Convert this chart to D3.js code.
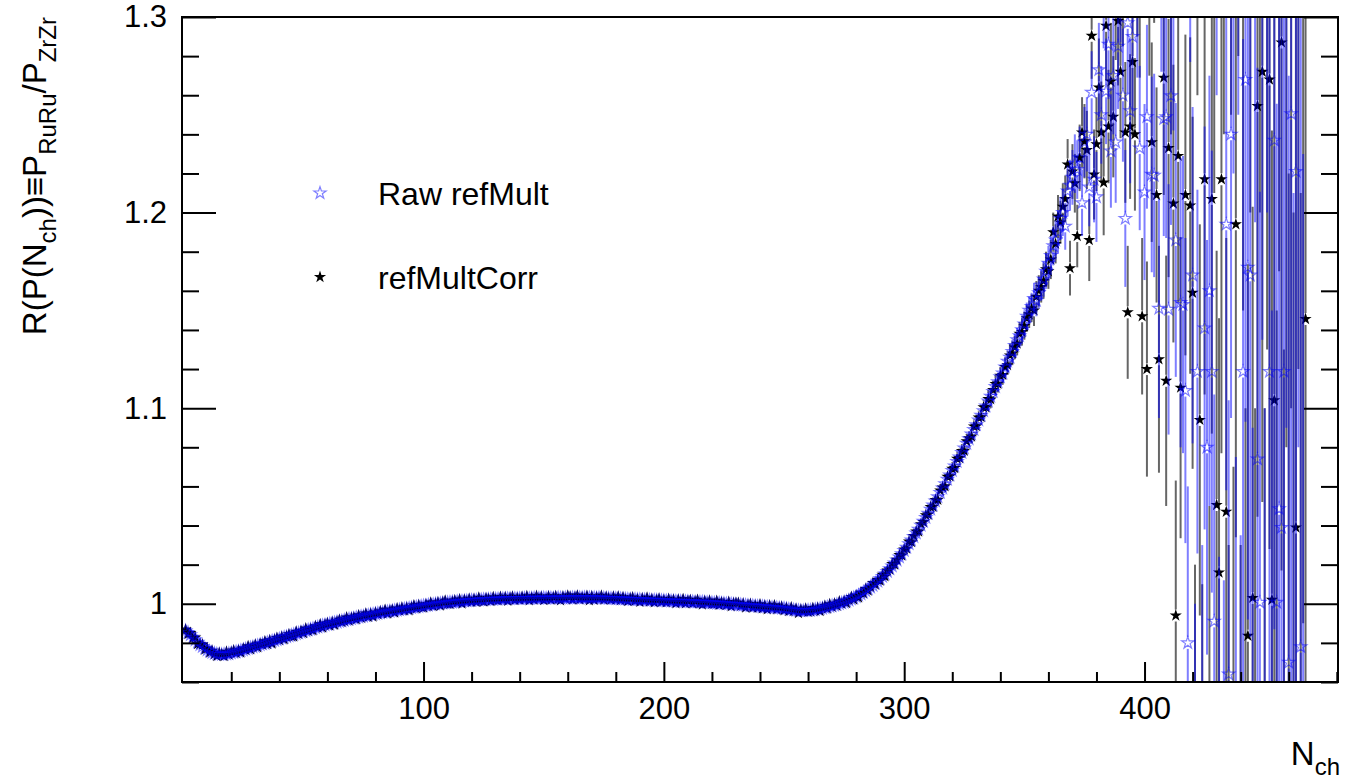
<!DOCTYPE html>
<html>
<head>
<meta charset="utf-8">
<script src="https://cdn.jsdelivr.net/npm/d3@7"></script>
<style>
  body { margin: 0; background: #fff; }
  svg { display: block; }
  text { font-family: "Liberation Sans", Arial, Helvetica, sans-serif; fill: #000; }
</style>
</head>
<body>
<svg id="chart" width="1366" height="782"></svg>
<script>
// ---- axis definitions ----
const xMajorTicks = [100, 200, 300, 400];
const xMinorTicks = [20, 40, 60, 80, 120, 140, 160, 180, 220, 240, 260, 280, 320, 340, 360, 380, 420, 440, 460, 480];
const yMajorTicks = [1.0, 1.1, 1.2, 1.3];
const yTickLabels = ["1", "1.1", "1.2", "1.3"];
const yMinorTicks = [0.96, 0.98, 1.02, 1.04, 1.06, 1.08, 1.12, 1.14, 1.16, 1.18, 1.22, 1.24, 1.26, 1.28];
const legendLabels = ["Raw refMult", "refMultCorr"];

// ---- ratio values per N_ch bin, N = 1 .. 340 ----
const rawLow = [
  0.9862,0.9853,0.9841,0.9828,0.9815,0.9803,0.9791,0.9781,0.9772,0.9764,
  0.9757,0.9751,0.9746,0.9743,0.9741,0.9740,0.9741,0.9743,0.9745,0.9748,
  0.9751,0.9754,0.9757,0.9761,0.9764,0.9768,0.9771,0.9775,0.9779,0.9782,
  0.9786,0.9790,0.9794,0.9797,0.9801,0.9805,0.9809,0.9812,0.9816,0.9820,
  0.9824,0.9828,0.9831,0.9835,0.9839,0.9843,0.9847,0.9850,0.9854,0.9858,
  0.9862,0.9866,0.9869,0.9873,0.9877,0.9881,0.9884,0.9888,0.9891,0.9894,
  0.9897,0.9900,0.9903,0.9906,0.9909,0.9912,0.9915,0.9918,0.9921,0.9923,
  0.9926,0.9929,0.9931,0.9934,0.9936,0.9939,0.9941,0.9944,0.9946,0.9948,
  0.9951,0.9953,0.9955,0.9957,0.9959,0.9961,0.9963,0.9965,0.9967,0.9969,
  0.9971,0.9973,0.9975,0.9977,0.9979,0.9981,0.9983,0.9985,0.9987,0.9989,
  0.9991,0.9993,0.9995,0.9996,0.9998,1.0000,1.0001,1.0003,1.0004,1.0006,
  1.0007,1.0008,1.0009,1.0011,1.0012,1.0013,1.0014,1.0015,1.0016,1.0017,
  1.0018,1.0018,1.0019,1.0020,1.0021,1.0021,1.0022,1.0023,1.0023,1.0024,
  1.0024,1.0025,1.0025,1.0026,1.0026,1.0026,1.0027,1.0027,1.0027,1.0027,
  1.0027,1.0028,1.0028,1.0027,1.0028,1.0029,1.0028,1.0028,1.0029,1.0029,
  1.0028,1.0029,1.0029,1.0028,1.0029,1.0030,1.0029,1.0029,1.0030,1.0030,
  1.0029,1.0030,1.0030,1.0031,1.0030,1.0030,1.0031,1.0030,1.0030,1.0030,
  1.0030,1.0029,1.0030,1.0029,1.0029,1.0028,1.0028,1.0027,1.0027,1.0026,
  1.0026,1.0025,1.0025,1.0024,1.0023,1.0023,1.0022,1.0022,1.0021,1.0021,
  1.0020,1.0020,1.0019,1.0019,1.0018,1.0018,1.0017,1.0017,1.0016,1.0016,
  1.0015,1.0015,1.0014,1.0014,1.0013,1.0013,1.0012,1.0012,1.0011,1.0011,
  1.0010,1.0010,1.0009,1.0009,1.0008,1.0008,1.0007,1.0006,1.0006,1.0005,
  1.0004,1.0003,1.0003,1.0002,1.0001,1.0000,0.9999,0.9998,0.9997,0.9996,
  0.9995,0.9994,0.9993,0.9992,0.9991,0.9990,0.9989,0.9988,0.9987,0.9986,
  0.9985,0.9984,0.9983,0.9982,0.9981,0.9980,0.9979,0.9978,0.9977,0.9976,
  0.9974,0.9972,0.9970,0.9968,0.9966,0.9965,0.9964,0.9964,0.9965,0.9966,
  0.9967,0.9968,0.9970,0.9972,0.9974,0.9977,0.9980,0.9983,0.9986,0.9989,
  0.9992,0.9996,1.0000,1.0004,1.0008,1.0013,1.0018,1.0024,1.0030,1.0036,
  1.0043,1.0050,1.0058,1.0066,1.0075,1.0084,1.0094,1.0104,1.0115,1.0127,
  1.0139,1.0152,1.0165,1.0179,1.0193,1.0208,1.0223,1.0239,1.0255,1.0272,
  1.0289,1.0307,1.0325,1.0343,1.0362,1.0381,1.0401,1.0421,1.0441,1.0462,
  1.0483,1.0504,1.0525,1.0547,1.0569,1.0591,1.0613,1.0636,1.0658,1.0681,
  1.0704,1.0727,1.0750,1.0773,1.0796,1.0820,1.0843,1.0867,1.0891,1.0915,
  1.0939,1.0963,1.0987,1.1011,1.1036,1.1060,1.1085,1.1110,1.1135,1.1160
];
const corrLow = [
  0.9868,0.9845,0.9851,0.9824,0.9827,0.9794,0.9794,0.9792,0.9766,0.9772,
  0.9750,0.9760,0.9743,0.9733,0.9749,0.9742,0.9732,0.9755,0.9740,0.9752,
  0.9761,0.9748,0.9761,0.9750,0.9771,0.9765,0.9783,0.9767,0.9781,0.9791,
  0.9777,0.9795,0.9792,0.9808,0.9794,0.9813,0.9797,0.9816,0.9825,0.9815,
  0.9831,0.9818,0.9834,0.9844,0.9833,0.9832,0.9857,0.9846,0.9860,0.9850,
  0.9874,0.9861,0.9871,0.9864,0.9885,0.9878,0.9895,0.9878,0.9895,0.9901,
  0.9889,0.9906,0.9892,0.9909,0.9918,0.9907,0.9913,0.9930,0.9914,0.9928,
  0.9930,0.9920,0.9941,0.9928,0.9938,0.9950,0.9933,0.9949,0.9934,0.9955,
  0.9946,0.9961,0.9952,0.9969,0.9950,0.9965,0.9969,0.9955,0.9976,0.9967,
  0.9980,0.9966,0.9980,0.9966,0.9982,0.9991,0.9977,0.9993,0.9983,0.9980,
  0.9997,0.9989,1.0006,0.9988,1.0000,1.0007,0.9991,1.0008,1.0016,1.0000,
  0.9998,1.0011,1.0017,1.0006,1.0022,1.0001,1.0020,1.0012,1.0025,1.0010,
  1.0023,1.0010,1.0031,1.0016,1.0011,1.0028,1.0025,1.0014,1.0034,1.0022,
  1.0018,1.0035,1.0022,1.0033,1.0015,1.0030,1.0036,1.0019,1.0029,1.0022,
  1.0035,1.0024,1.0039,1.0018,1.0031,1.0022,1.0040,1.0026,1.0035,1.0019,
  1.0025,1.0038,1.0021,1.0033,1.0039,1.0024,1.0018,1.0036,1.0026,1.0042,
  1.0035,1.0021,1.0034,1.0042,1.0023,1.0032,1.0026,1.0040,1.0018,1.0038,
  1.0020,1.0034,1.0027,1.0041,1.0021,1.0035,1.0029,1.0021,1.0036,1.0022,
  1.0037,1.0019,1.0033,1.0022,1.0014,1.0027,1.0032,1.0015,1.0024,1.0010,
  1.0027,1.0016,1.0031,1.0011,1.0023,1.0008,1.0020,1.0026,1.0010,1.0018,
  1.0008,1.0025,1.0012,1.0020,1.0002,1.0021,1.0007,1.0024,1.0002,1.0015,
  1.0019,1.0002,1.0012,1.0020,1.0002,0.9996,1.0014,1.0003,1.0016,1.0000,
  1.0000,1.0015,0.9994,1.0007,1.0003,0.9993,1.0009,0.9987,1.0003,1.0004,
  1.0005,0.9989,1.0000,0.9980,0.9994,0.9999,0.9981,0.9992,0.9981,0.9997,
  0.9977,0.9990,0.9972,0.9991,0.9978,0.9992,0.9972,0.9980,0.9985,0.9966,
  0.9979,0.9963,0.9981,0.9964,0.9974,0.9953,0.9970,0.9962,0.9975,0.9959,
  0.9961,0.9978,0.9967,0.9979,0.9963,0.9981,0.9989,0.9975,0.9998,0.9984,
  1.0000,0.9989,1.0012,1.0001,1.0014,1.0003,1.0022,1.0035,1.0021,1.0041,
  1.0032,1.0056,1.0054,1.0076,1.0067,1.0087,1.0106,1.0098,1.0122,1.0118,
  1.0148,1.0140,1.0170,1.0175,1.0204,1.0201,1.0225,1.0249,1.0247,1.0278,
  1.0282,1.0318,1.0315,1.0347,1.0370,1.0369,1.0407,1.0418,1.0453,1.0456,
  1.0495,1.0496,1.0531,1.0532,1.0579,1.0595,1.0601,1.0650,1.0652,1.0690,
  1.0694,1.0742,1.0745,1.0781,1.0782,1.0831,1.0846,1.0855,1.0907,1.0908,
  1.0952,1.0954,1.1005,1.1005,1.1047,1.1045,1.1093,1.1124,1.1125,1.1166
];
// statistical error on the ratio for N = 1 .. 340: [from N, error]
const lowErrSteps = [[1, 0.0006], [150, 0.0008], [220, 0.0010], [270, 0.0015], [300, 0.0025], [320, 0.0035], [335, 0.0045]];

// ---- high-multiplicity tail: [N, ratio, error] ----
const rawTail = [
  [341,1.118,.005],[342,1.121,.005],[343,1.124,.005],[344,1.126,.006],[345,1.129,.006],[346,1.132,.006],[347,1.135,.006],[348,1.137,.006],[349,1.140,.007],[350,1.143,.007],
  [351,1.147,.007],[352,1.150,.007],[353,1.152,.007],[354,1.156,.008],[355,1.155,.008],[356,1.159,.008],[357,1.163,.008],[358,1.166,.009],[359,1.170,.009],[360,1.174,.009],
  [361,1.178,.010],[362,1.183,.010],[363,1.186,.010],[364,1.190,.011],[365,1.197,.011],[366,1.200,.012],[367,1.193,.012],[368,1.211,.013],[369,1.214,.013],[370,1.218,.014],
  [371,1.225,.015],[372,1.222,.015],[373,1.228,.016],[374,1.205,.017],[375,1.236,.018],[376,1.240,.019],[377,1.213,.020],[378,1.2615,.021],[379,1.217,.022],[380,1.208,.023],
  [381,1.273,.024],[382,1.250,.025],[383,1.310,.026],[384,1.262,.027],[385,1.286,.028],[386,1.2315,.029],[387,1.270,.030],[388,1.236,.031],[389,1.285,.032],[390,1.320,.033],
  [391,1.260,.034],[392,1.197,.035],[393,1.297,.036],[394,1.252,.037],[395,1.290,.038],[396,1.340,.040],[397,1.310,.041],[398,1.233,.042],[399,1.350,.044],[400,1.2105,.045],
  [401,1.249,.047],[402,1.360,.048],[403,1.2195,.050],[404,1.219,.052],[405,1.380,.054],[406,1.151,.056],[407,1.330,.058],[408,1.248,.060],[409,1.249,.062],[410,1.1505,.064],
  [411,1.2597,.066],[412,1.310,.068],[413,1.186,.070],[414,1.420,.072],[415,1.154,.074],[416,1.153,.076],[417,1.109,.078],[418,0.980,.080],[419,1.360,.083],[420,1.168,.086],
  [421,0.910,.090],[422,1.1187,.093],[423,1.400,.096],[424,0.930,.100],[425,1.141,.103],[426,1.080,.106],[427,1.160,.110],[428,1.1187,.113],[429,0.991,.116],[430,1.380,.120],
  [431,0.900,.124],[432,1.440,.128],[433,0.880,.132],[434,1.194,.136],[435,0.964,.140],[436,1.240,.145],[437,1.370,.150],[438,0.920,.155],[439,1.410,.160],[440,0.870,.165],
  [441,1.1187,.170],[442,1.268,.175],[443,1.172,.180],[444,1.168,.185],[445,0.900,.190],[446,1.390,.195],[447,1.074,.200],[448,1.0007,.210],[449,1.350,.215],[450,0.880,.220],
  [451,1.430,.230],[452,1.1187,.235],[453,0.910,.240],[454,1.237,.250],[455,1.0007,.255],[456,1.0486,.260],[457,1.039,.270],[458,1.1187,.280],[459,1.380,.290],[460,0.970,.300],
  [461,1.2505,.310],[462,0.890,.320],[463,1.221,.330],[464,1.420,.340],[465,0.978,.350],[466,0.870,.360]
];
const corrTail = [
  [341,1.117,.005],[342,1.121,.005],[343,1.122,.005],[344,1.127,.006],[345,1.128,.006],[346,1.131,.006],[347,1.133,.006],[348,1.138,.006],[349,1.139,.007],[350,1.142,.007],
  [351,1.146,.007],[352,1.148,.007],[353,1.151,.007],[354,1.150,.008],[355,1.157,.008],[356,1.160,.008],[357,1.162,.008],[358,1.165,.009],[359,1.171,.009],[360,1.170,.009],
  [361,1.176,.010],[362,1.190,.010],[363,1.184,.010],[364,1.198,.011],[365,1.195,.011],[366,1.203,.012],[367,1.207,.012],[368,1.2246,.013],[369,1.1716,.014],[370,1.221,.014],
  [371,1.215,.015],[372,1.188,.016],[373,1.228,.017],[374,1.241,.018],[375,1.2365,.019],[376,1.232,.020],[377,1.186,.021],[378,1.2904,.022],[379,1.2195,.023],[380,1.235,.024],
  [381,1.264,.025],[382,1.241,.026],[383,1.2154,.027],[384,1.2955,.028],[385,1.244,.029],[386,1.267,.030],[387,1.249,.031],[388,1.310,.032],[389,1.298,.033],[390,1.272,.034],
  [391,1.320,.035],[392,1.241,.036],[393,1.149,.034],[394,1.244,.037],[395,1.277,.038],[396,1.240,.039],[397,1.330,.040],[398,1.310,.041],[399,1.147,.040],[400,1.360,.045],
  [401,1.120,.055],[402,1.320,.050],[403,1.236,.051],[404,1.350,.053],[405,1.209,.055],[406,1.125,.058],[407,1.400,.070],[408,1.269,.060],[409,1.114,.064],[410,1.233,.066],
  [411,1.310,.070],[412,1.2046,.071],[413,0.994,.069],[414,1.229,.075],[415,1.1105,.077],[416,1.380,.080],[417,1.209,.082],[418,1.450,.090],[419,1.2036,.086],[420,1.159,.090],
  [421,0.920,.100],[422,1.360,.100],[423,1.094,.100],[424,0.900,.110],[425,1.217,.110],[426,1.420,.120],[427,0.930,.120],[428,1.207,.120],[429,1.340,.130],[430,1.0505,.130],
  [431,1.016,.130],[432,1.217,.140],[433,1.380,.140],[434,1.047,.140],[435,0.880,.150],[436,1.400,.150],[437,0.910,.160],[438,1.194,.160],[439,1.450,.170],[440,0.860,.170],
  [441,1.330,.180],[442,0.920,.180],[443,0.9836,.190],[444,1.390,.190],[445,1.003,.200],[446,0.900,.200],[447,1.2545,.210],[448,1.420,.220],[449,1.272,.220],[450,0.870,.230],
  [451,1.360,.230],[452,1.268,.240],[453,1.002,.240],[454,1.104,.250],[455,0.890,.260],[456,1.440,.270],[457,1.287,.270],[458,0.850,.280],[459,1.370,.290],[460,0.920,.300],
  [461,1.400,.300],[462,0.880,.320],[463,1.039,.320],[464,1.460,.340],[465,0.860,.350],[466,1.350,.360],[467,1.1456,.380]
];

// ---- build point lists ----
function lowErr(n) {
  let e = lowErrSteps[0][1];
  for (const [from, err] of lowErrSteps) if (n >= from) e = err;
  return e;
}
function buildSeries(low, tail) {
  return low.map((v, i) => ({ n: i + 1, v, e: lowErr(i + 1) }))
    .concat(tail.map(([n, v, e]) => ({ n, v, e })));
}
const rawPts = buildSeries(rawLow, rawTail);
const corrPts = buildSeries(corrLow, corrTail);

// ---- layout ----
const frame = { left: 182, right: 1338, top: 17, bottom: 682 };
const x = d3.scaleLinear().domain([-0.5, 480.5]).range([frame.left, frame.right]);
const y = d3.scaleLinear().domain([0.96, 1.3]).range([frame.bottom, frame.top]);

const svg = d3.select("#chart");
svg.append("defs").append("clipPath").attr("id", "plotClip")
  .append("rect").attr("x", frame.left).attr("y", frame.top)
  .attr("width", frame.right - frame.left).attr("height", frame.bottom - frame.top);

const plot = svg.append("g").attr("clip-path", "url(#plotClip)");
const star = d3.symbol().type(d3.symbolStar).size(46)();
const gap = 6;

function drawSeries(pts, cls, barColor, barOpacity, drawMarker) {
  const g = plot.append("g").attr("class", cls);
  const bars = g.append("g").attr("stroke", barColor).attr("stroke-opacity", barOpacity)
    .attr("stroke-width", 2).attr("fill", "none");
  pts.forEach(p => {
    const cx = x(p.n), cy = y(p.v);
    const top = y(p.v + p.e), bot = y(p.v - p.e);
    if (cy - gap > top) bars.append("line").attr("x1", cx).attr("x2", cx).attr("y1", top).attr("y2", cy - gap);
    if (bot > cy + gap) bars.append("line").attr("x1", cx).attr("x2", cx).attr("y1", cy + gap).attr("y2", bot);
  });
  const marks = g.append("g");
  pts.forEach(p => drawMarker(marks, x(p.n), y(p.v)));
}
const drawCorrMarker = (g, cx, cy) => g.append("path").attr("d", star)
  .attr("transform", `translate(${cx},${cy})`).attr("fill", "#000");
const drawRawMarker = (g, cx, cy) => g.append("path").attr("d", star)
  .attr("transform", `translate(${cx},${cy})`).attr("fill", "none")
  .attr("stroke", "rgb(0,0,255)").attr("stroke-opacity", 0.5).attr("stroke-width", 1.2);

drawSeries(corrPts, "corr", "#000", 0.6, drawCorrMarker);
drawSeries(rawPts, "raw", "rgb(0,0,255)", 0.5, drawRawMarker);

// ---- axes ----
const axes = svg.append("g").attr("class", "axes");
const fontTick = 31;

const xAxisMajor = d3.axisBottom(x).tickValues(xMajorTicks).tickSize(-20).tickPadding(15).tickFormat(d3.format("d"));
const xAxisMinor = d3.axisBottom(x).tickValues(xMinorTicks).tickSize(-10).tickFormat("");
const yAxisMajor = d3.axisLeft(y).tickValues(yMajorTicks).tickSize(-34).tickPadding(15)
  .tickFormat((d, i) => yTickLabels[i]);
const yAxisMinor = d3.axisLeft(y).tickValues(yMinorTicks).tickSize(-17).tickFormat("");
const yRightMajor = d3.axisRight(y).tickValues(yMajorTicks).tickSize(-34).tickFormat("");
const yRightMinor = d3.axisRight(y).tickValues(yMinorTicks).tickSize(-17).tickFormat("");

function styleAxis(g) {
  g.select(".domain").remove();
  g.selectAll(".tick line").attr("stroke", "#000").attr("stroke-width", 2);
  g.selectAll(".tick text").attr("font-size", fontTick)
    .attr("font-family", '"Liberation Sans", Arial, Helvetica, sans-serif').attr("fill", "#000");
}
axes.append("g").attr("transform", `translate(0,${frame.bottom})`).call(xAxisMajor).call(styleAxis);
axes.append("g").attr("transform", `translate(0,${frame.bottom})`).call(xAxisMinor).call(styleAxis);
axes.append("g").attr("transform", `translate(${frame.left},0)`).call(yAxisMajor).call(styleAxis);
axes.append("g").attr("transform", `translate(${frame.left},0)`).call(yAxisMinor).call(styleAxis);
axes.append("g").attr("transform", `translate(${frame.right},0)`).call(yRightMajor).call(styleAxis);
axes.append("g").attr("transform", `translate(${frame.right},0)`).call(yRightMinor).call(styleAxis);

svg.append("rect").attr("x", frame.left).attr("y", frame.top)
  .attr("width", frame.right - frame.left).attr("height", frame.bottom - frame.top)
  .attr("fill", "none").attr("stroke", "#000").attr("stroke-width", 2);

// ---- axis titles ----
const titleSize = 33, subSize = 24, subDrop = 10;
const yTitle = svg.append("text").attr("transform", "translate(46,17) rotate(-90)")
  .attr("text-anchor", "end").attr("font-size", titleSize);
yTitle.append("tspan").text("R(P(N");
yTitle.append("tspan").attr("font-size", subSize).attr("dy", subDrop).text("ch");
yTitle.append("tspan").attr("dy", -subDrop).text("))≡P");
yTitle.append("tspan").attr("font-size", subSize).attr("dy", subDrop).text("RuRu");
yTitle.append("tspan").attr("dy", -subDrop).text("/P");
yTitle.append("tspan").attr("font-size", subSize).attr("dy", subDrop).text("ZrZr");

const xTitle = svg.append("text").attr("x", 1340).attr("y", 765)
  .attr("text-anchor", "end").attr("font-size", titleSize);
xTitle.append("tspan").text("N");
xTitle.append("tspan").attr("font-size", subSize).attr("dy", subDrop).text("ch");

// ---- legend ----
const legend = svg.append("g").attr("class", "legend");
const legendRows = [
  { label: legendLabels[0], y: 193, draw: drawRawMarker },
  { label: legendLabels[1], y: 277, draw: drawCorrMarker }
];
legendRows.forEach(r => {
  r.draw(legend, 320, r.y);
  legend.append("text").attr("x", 378).attr("y", r.y + 12).attr("font-size", 32).text(r.label);
});
</script>
</body>
</html>
